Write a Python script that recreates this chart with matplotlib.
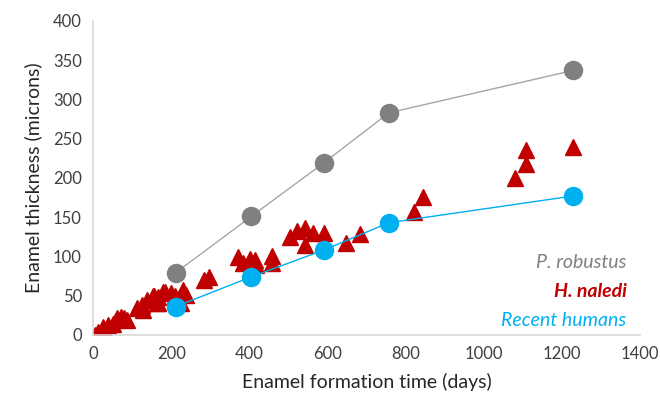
import matplotlib.pyplot as plt

# P. robustus and recent human averages
days_ref = [211, 405, 590, 757, 1229]
robustus = [79, 151, 219, 283, 337]
humans = [36, 74, 108, 143, 177]

# H. naledi individual teeth
naledi_days = [4, 12, 25, 37, 50, 62, 71, 79, 87,
               112, 125, 129, 137, 154, 155, 163, 166, 167, 180, 183, 200,
               209, 226, 230, 238, 285, 297,
               372, 384, 401, 414, 417, 459, 459,
               505, 522, 542, 542, 563, 592, 647, 682,
               820, 845, 1079, 1109, 1109, 1229]
naledi_thick = [0, 4, 10, 12, 14, 21, 23, 21, 19,
                34, 38, 32, 44, 50, 49, 40, 48, 40, 55, 55, 53,
                49, 40, 57, 51, 70, 74,
                99, 91, 97, 95, 89, 100, 91,
                125, 132, 136, 115, 130, 130, 117, 128,
                157, 176, 200, 218, 236, 239]

grey = "#808080"
red = "#C00000"
blue = "#00B0F0"

plt.rcParams['font.family'] = ['Lato', 'DejaVu Sans']

fig = plt.figure(figsize=(6.6, 4.03), dpi=100)
ax = fig.add_axes([0.141, 0.169, 0.829, 0.779])

ax.plot(days_ref, robustus, color="#A6A6A6", lw=1, marker="o", ms=13,
        mfc=grey, mec=grey, zorder=3)
ax.plot(days_ref, humans, color=blue, lw=1, marker="o", ms=13,
        mfc=blue, mec=blue, zorder=3)
ax.plot(naledi_days, naledi_thick, ls="none", marker="^", ms=11,
        color=red, zorder=2)

ax.set_xlim(0, 1400)
ax.set_ylim(0, 400)
ax.set_xticks(range(0, 1401, 200))
ax.set_yticks(range(0, 401, 50))
ax.tick_params(length=0, labelsize=12, colors="#404040", pad=8)

for s in ["top", "right"]:
    ax.spines[s].set_visible(False)
for s in ["left", "bottom"]:
    ax.spines[s].set_color("#D9D9D9")
    ax.spines[s].set_linewidth(1.2)

ax.set_xlabel("Enamel formation time (days)", fontsize=14, color="#262626", labelpad=8)
ax.set_ylabel("Enamel thickness (microns)", fontsize=14, color="#262626", labelpad=8)

ax.text(1365, 92, "P. robustus", color=grey, style="italic", fontsize=14,
        ha="right", va="center")
ax.text(1365, 55, "H. naledi", color=red, style="italic", weight="bold",
        fontsize=14, ha="right", va="center")
ax.text(1365, 18, "Recent humans", color=blue, style="italic", fontsize=14,
        ha="right", va="center")

fig.savefig("out.png", dpi=100)
